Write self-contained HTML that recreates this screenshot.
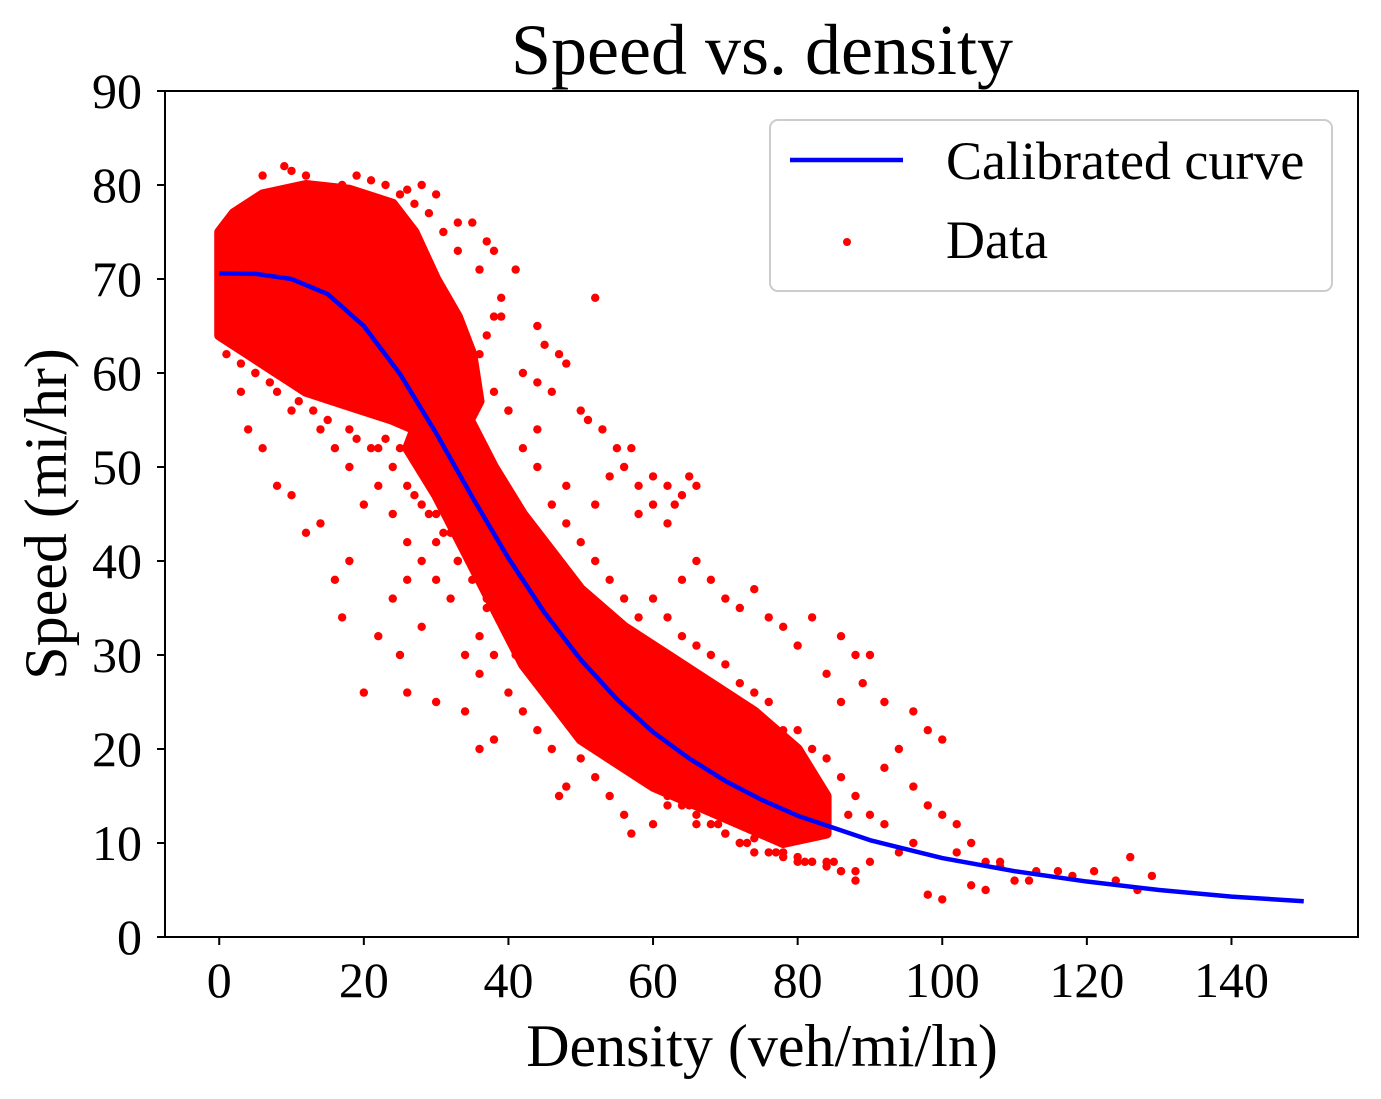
<!DOCTYPE html>
<html><head><meta charset="utf-8"><style>
html,body{margin:0;padding:0;background:#fff}
svg{display:block}
text{font-family:"Liberation Serif",serif;fill:#000}
</style></head><body>
<svg id="chart" width="1381" height="1099" viewBox="0 0 1381 1099" xmlns="http://www.w3.org/2000/svg">
<rect width="1381" height="1099" fill="#fff"/>
<text x="762" y="74" font-size="72" text-anchor="middle">Speed vs. density</text>
<g id="plot"></g>
<g id="axes"></g>
<text x="762" y="1066" font-size="60" text-anchor="middle">Density (veh/mi/ln)</text>
<text transform="translate(66,514) rotate(-90)" font-size="60" text-anchor="middle">Speed (mi/hr)</text>
<g>
<rect x="770" y="120" width="562" height="171" rx="8" fill="#fff" fill-opacity="0.8" stroke="#ccc" stroke-width="2"/>
<line x1="790" y1="160" x2="903" y2="160" stroke="#0000ff" stroke-width="4.5"/>
<text x="946" y="179" font-size="54">Calibrated curve</text>
<circle cx="847" cy="242" r="4" fill="#ff0000"/>
<text x="946" y="258" font-size="54">Data</text>
</g>
</svg>
<script>
const xTicks = [0,20,40,60,80,100,120,140];
const yTicks = [0,10,20,30,40,50,60,70,80,90];
const curveK = [0,5,10,15,20,25,30,35,40,45,50,55,60,65,70,75,80,90,100,110,120,130,140,150];
const curveV = [70.6,70.55,70.0,68.4,65.0,59.9,53.6,46.8,40.3,34.5,29.5,25.3,21.8,19.0,16.6,14.6,12.9,10.3,8.4,7.0,5.9,5.0,4.3,3.8];
const coreAK = [0,2,6,12,18,24,27,30,33,35,36,34,30,27,24,20,16,12,8,4,0];
const coreAV = [75,77,79,80,79.5,78,75,70,66,62,57,54,53,54,55,56,57,58,60,62,64];
const coreBK = [30,34,38,42,46,50,56,62,68,74,80,84,84,78,72,66,60,54,50,46,42,38,34,30,26];
const coreBV = [60,56,50,45,41,37,33,30,27,24,20,15,11,10,12,14,16,19,21,25,29,35,41,47,52];
const dataK = [9,10,12,6,4,28,30,26,33,35,37,38,36,39,41,44,45,47,48,44,46,42,40,50,52,51,53,55,57,56,54,58,60,62,64,66,63,65,60,58,62,66,64,68,70,72,74,76,78,80,82,86,88,90,89,84,86,92,96,98,100,94,92,96,98,100,102,104,106,108,110,113,116,121,126,129,127,100,98,104,88,86,84,78,72,57,48,47,36,38,34,30,26,20,22,25,28,17,16,18,14,12,10,8,6,4,3,5,10,14,18,22,24,26,28,30,32,24,26,34,36,40,42,44,46,50,52,54,56,60,62,66,70,74,80,82,90,94,96,102,108,112,118,124,106,24,27,29,31,33,35,37,39,28,32,36,30,34,38,40,20,22,18,16,44,46,48,42,40,44,36,38,44,46,48,50,52,54,56,58,60,62,64,66,68,70,72,74,76,78,80,82,84,86,88,90,92,48,52,42,40,38,44,
 1,2,3,5,7,8,11,13,15,19,21,23,25,27,29,31,32,34,36,37,38,39,33,31,29,27,25,23,21,19,17,15,13,11,9,7,5,3,2,1,26,28,30,32,34,36,38,40,42,44,46,48,50,52,54,56,58,60,62,64,66,68,70,72,74,76,78,80,82,84,86,88,31,35,39,43,47,51,55,59,63,67,71,75,79,83,87,33,37,41,45,49,53,57,61,65,69,73,77,81,85];
const dataV = [82,81.5,81,81,78,80,79,79.5,76,76,74,73,71,66,71,65,63,62,61,59,58,60,56,56,68,55,54,52,52,50,49,48,49,48,47,48,46,49,46,45,44,40,38,38,36,35,37,34,33,31,34,32,30,30,27,28,25,25,24,22,21,20,18,16,14,13,12,10,8,8,6,7,7,7,8.5,6.5,5,4,4.5,5.5,6,7,8,9,10,11,16,15,20,21,24,25,26,26,32,30,33,34,38,40,44,43,47,48,52,54,58,60,56,54,50,48,45,42,40,38,36,36,38,30,28,26,24,22,20,19,17,15,13,12,14,12,11,10.5,8.5,8,8,9,10,9,7.5,6,6.5,6,5,50,47,45,43,40,38,36,34,50,48,46,42,44,42,40,46,52,54,52,36,34,30,38,32,28,32,30,50,46,44,42,40,38,36,34,36,34,32,31,30,29,27,26,25,22,22,20,19,17,15,13,12,48,46,52,56,58,54,
 62,63,61,60,59,58,57,56,55,53,52,53,52,51,50,52,58,60,62,64,66,68,73,75,77,78,79,80,80.5,81,80,79,79,78,76,75,73,71,69,67,48,46,45,43,41,39,37,35,33,31,29,27,25,23,21,20,18,17,15,14,13,12,11,10,9,9,8.5,8,8,7.5,7,7,58,52,47,43,38,35,32,29,27,24,22,20,18,16,13,40,35,30,27,24,21,18,16,14,12,10,9,8,8];

const L=165,R=1358,T=91,B=937,XMIN=-7.5,XMAX=157.5,YMIN=0,YMAX=90;
const sx=v=>L+(v-XMIN)/(XMAX-XMIN)*(R-L);
const sy=v=>B-(v-YMIN)/(YMAX-YMIN)*(B-T);
const NS='http://www.w3.org/2000/svg';
const plot=document.getElementById('plot'), axes=document.getElementById('axes');
function mk(tag,attrs,parent){const e=document.createElementNS(NS,tag);for(const k in attrs)e.setAttribute(k,attrs[k]);parent.appendChild(e);return e;}

const pA=mk('polygon',{points:coreAK.map((k,i)=>sx(k)+','+sy(coreAV[i])).join(' '),fill:'#ff0000',stroke:'#ff0000','stroke-width':10,'stroke-linejoin':'round'},plot);


const pB=mk('polygon',{points:coreBK.map((k,i)=>sx(k)+','+sy(coreBV[i])).join(' '),fill:'#ff0000',stroke:'#ff0000','stroke-width':10,'stroke-linejoin':'round'},plot);


dataK.forEach((k,i)=>{
  const c=mk('circle',{cx:sx(k),cy:sy(dataV[i]),r:4.2,fill:'#ff0000'},plot);
  
  
});
const line=mk('polyline',{points:curveK.map((k,i)=>sx(k)+','+sy(curveV[i])).join(' '),fill:'none',stroke:'#0000ff','stroke-width':4.5,'stroke-linejoin':'round'},plot);



const frame=mk('rect',{x:L,y:T,width:R-L,height:B-T,fill:'none',stroke:'#000','stroke-width':2},axes);


xTicks.forEach(t=>{
  const tk=mk('line',{x1:sx(t),x2:sx(t),y1:B,y2:B+8,stroke:'#000','stroke-width':2},axes);
  
  
  const tx=mk('text',{x:sx(t),y:B+60,'font-size':50,'text-anchor':'middle'},axes);
  tx.textContent=t;
  
  
});
yTicks.forEach(t=>{
  const tk=mk('line',{x1:L-8,x2:L,y1:sy(t),y2:sy(t),stroke:'#000','stroke-width':2},axes);
  
  
  const tx=mk('text',{x:L-23,y:sy(t)+17,'font-size':50,'text-anchor':'end'},axes);
  tx.textContent=t;
  
  
});
</script>
</body></html>
